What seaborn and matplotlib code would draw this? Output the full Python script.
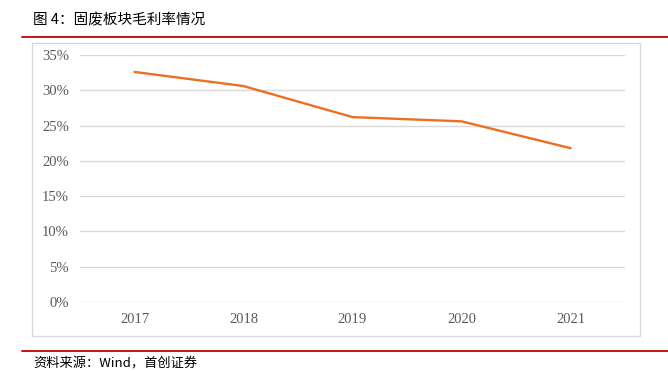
import seaborn as sns
import matplotlib.pyplot as plt
import pandas as pd
from matplotlib.lines import Line2D
from matplotlib.patches import Rectangle
from matplotlib.ticker import PercentFormatter

# 固废板块毛利率
years = ["2017", "2018", "2019", "2020", "2021"]
margin = [0.326, 0.306, 0.262, 0.256, 0.218]
yticks = [0, 0.05, 0.10, 0.15, 0.20, 0.25, 0.30, 0.35]

df = pd.DataFrame({"year": years, "margin": margin})

sns.set_style("white")
plt.rcParams['font.family'] = ['Noto Sans CJK SC', 'DejaVu Sans']

W, H = 668, 371
fig = plt.figure(figsize=(W / 100, H / 100), dpi=100)

# 图表外框
fig.add_artist(Rectangle((32 / W, 1 - 336 / H), (640 - 32) / W, (336 - 43) / H,
                         transform=fig.transFigure, fill=False,
                         edgecolor="#d9d9d9", linewidth=1))
# 红色分隔线
fig.add_artist(Line2D([22 / W, 1], [1 - 37 / H, 1 - 37 / H], color="#c00000", linewidth=1.3))
fig.add_artist(Line2D([22 / W, 1], [1 - 351 / H, 1 - 351 / H], color="#c00000", linewidth=1.3))

fig.text(33 / W, 1 - 20 / H, "图 4：固废板块毛利率情况", fontsize=10.5,
         va="center", ha="left", color="#000000")
fig.text(33 / W, 1 - 364 / H, "资料来源：Wind，首创证券", fontsize=9.5,
         va="center", ha="left", style="italic", color="#000000")

ax = fig.add_axes([80 / W, 1 - 302 / H, 545 / W, (302 - 55) / H])
sns.lineplot(data=df, x="year", y="margin", ax=ax, color="#ec6f22", linewidth=1.7)

ax.set_xlim(-0.5, 4.5)
ax.set_ylim(0, 0.35)
ax.set_yticks(yticks)
ax.yaxis.set_major_formatter(PercentFormatter(1.0, decimals=0))
ax.grid(axis="y", color="#d9d9d9", linewidth=1)
ax.set_axisbelow(True)
for s in ax.spines.values():
    s.set_visible(False)
ax.tick_params(axis="both", length=0, labelsize=10.5, colors="#595959", pad=8)
for lab in ax.get_xticklabels() + ax.get_yticklabels():
    lab.set_fontfamily("Liberation Serif")
ax.set_xlabel("")
ax.set_ylabel("")

fig.savefig("out.png", dpi=100)
